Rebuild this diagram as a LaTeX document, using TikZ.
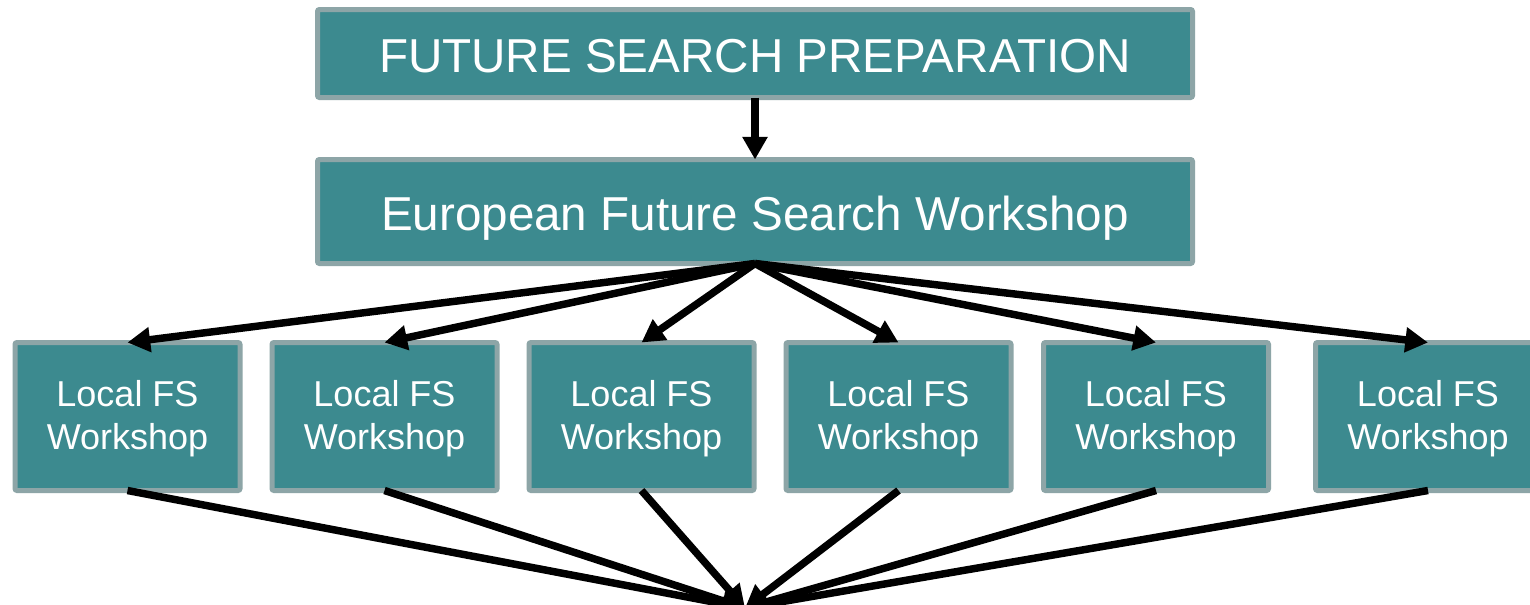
\documentclass[tikz,border=0pt]{standalone}
\usepackage{fontspec}
\setmainfont{Liberation Sans}
\usetikzlibrary{arrows.meta}
\definecolor{boxfill}{HTML}{3C8A8F}
\definecolor{boxline}{HTML}{8DA5A7}
\newcommand{\twolines}[2]{\begin{tabular}[t]{@{}c@{}}#1\\#2\end{tabular}}
\begin{document}
\begin{tikzpicture}[x=0.75pt,y=-0.75pt,
  box/.style={draw=boxline, fill=boxfill, line width=3.75pt, rounded corners=1.5pt,
    text=white, inner sep=0pt, outer sep=0pt},
  bigbox/.style={box, minimum width=656.25pt, font=\fontsize{35.7pt}{40pt}\selectfont,
    text height=27.75pt, text depth=0pt},
  localbox/.style={box, minimum width=168.75pt, minimum height=111pt,
    font=\fontsize{27pt}{32.25pt}\selectfont, text height=0pt, text depth=14.7pt},
  conn/.style={line width=5.6pt, -{Triangle[length=17pt,width=18pt]}}]
\clip (0,0) rectangle (1530,604);
\fill[white] (0,0) rectangle (1530,604);
\node[bigbox, minimum height=66pt] (prep) at (755,53.5) {FUTURE SEARCH PREPARATION};
\node[bigbox, minimum height=78pt] (euro) at (755,211.5) {European Future Search Workshop};
\node[localbox] (l1) at (127.5,416.5) {\twolines{Local FS}{Workshop}};
\node[localbox] (l2) at (384.5,416.5) {\twolines{Local FS}{Workshop}};
\node[localbox] (l3) at (641.5,416.5) {\twolines{Local FS}{Workshop}};
\node[localbox] (l4) at (898.5,416.5) {\twolines{Local FS}{Workshop}};
\node[localbox] (l5) at (1156,416.5) {\twolines{Local FS}{Workshop}};
\node[localbox] (l6) at (1428,416.5) {\twolines{Local FS}{Workshop}};
\coordinate (sink) at (745,608);
\draw[conn] (prep.south) -- (euro.north);
\foreach \n in {l1,l2,l3,l4,l5,l6}{
  \draw[conn] (euro.south) -- (\n.north);
  \draw[conn] (\n.south) -- (sink);
}
\end{tikzpicture}
\end{document}
